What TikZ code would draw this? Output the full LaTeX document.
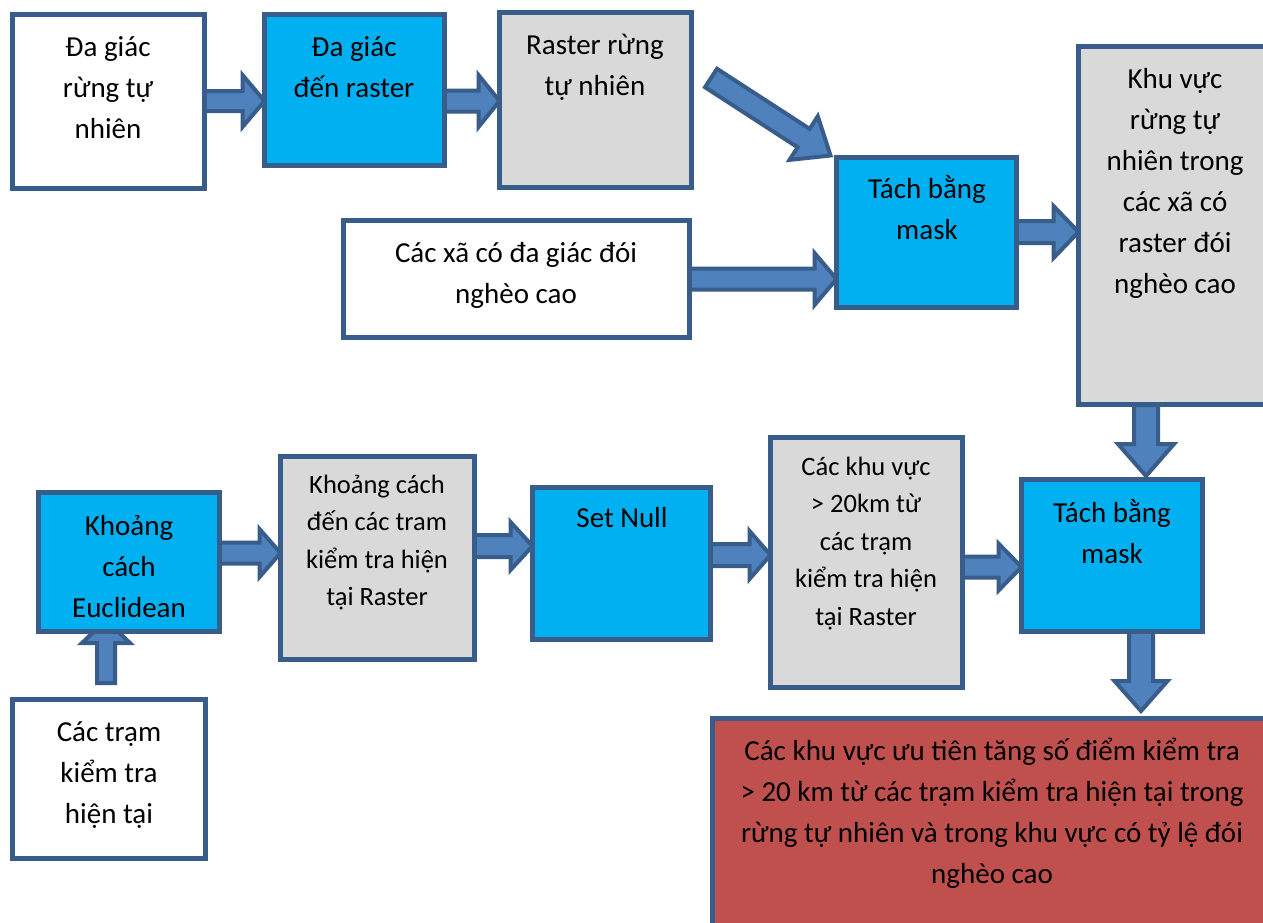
\documentclass[tikz,border=0pt]{standalone}
\usepackage{fontspec}
\setmainfont{Carlito}
\usetikzlibrary{calc}
\definecolor{bordc}{HTML}{385D8A}
\definecolor{arrf}{HTML}{4F81BD}
\definecolor{cyanf}{HTML}{00B0F0}
\definecolor{grayf}{HTML}{D9D9D9}
\definecolor{redf}{HTML}{C0504D}
\pgfdeclarelayer{background}
\pgfsetlayers{background,main}
\newcommand\lns[1]{\begin{tabular}[t]{@{}c@{}}#1\end{tabular}}
\newcommand\mkbox[6]{\node[boxst, fill=#6, minimum width={#4-#2-5}, minimum height={#5-#3-5}] (#1) at ({(#2+#4)/2},{(#3+#5)/2}) {};}
\newcommand\barrow[5]{%
  \coordinate (bs) at #1; \coordinate (be) at #2;
  \coordinate (bh) at ($(be)!#5pt!(bs)$);
  \draw[arrst] ($(bs)!#3pt!90:(be)$) -- ($(bh)!#3pt!90:(be)$) -- ($(bh)!#4pt!90:(be)$) -- (be)
    -- ($(bh)!#4pt!-90:(be)$) -- ($(bh)!#3pt!-90:(be)$) -- ($(bs)!#3pt!-90:(be)$) -- cycle;}
\tikzset{
  boxst/.style={draw=bordc, line width=5pt, rectangle, inner sep=0pt, outer sep=0pt},
  arrst/.style={draw=bordc, fill=arrf, line width=4pt, line join=miter},
  txt/.style={inner sep=0pt, font=\fontsize{29}{41}\selectfont, anchor=base},
  txts/.style={inner sep=0pt, font=\fontsize{26.5}{37.5}\selectfont, anchor=base}
}
\begin{document}
\begin{tikzpicture}[x=1pt,y=-1pt]
\useasboundingbox (0,0) rectangle (1263,922);
\clip (0,0) rectangle (1263,922);
\begin{pgfonlayer}{background}
\fill[white] (0,0) rectangle (1263,922);
\end{pgfonlayer}
% boxes
\mkbox{b1}{10}{12}{207}{191}{white}
\mkbox{b2}{262}{12}{447}{168}{cyanf}
\mkbox{b3}{497}{10}{694}{190}{grayf}
\mkbox{b4}{834}{155}{1019}{310}{cyanf}
\mkbox{b5}{341}{218}{692}{340}{white}
\mkbox{b6}{1076}{44}{1274}{407}{grayf}
\mkbox{b7}{36}{490}{222}{634}{cyanf}
\mkbox{b8}{10}{697}{208}{861}{white}
\mkbox{b9}{278}{454}{477}{662}{grayf}
\mkbox{b10}{530}{485}{713}{642}{cyanf}
\mkbox{b11}{768}{435}{965}{690}{grayf}
\mkbox{b12}{1019}{477}{1205}{634}{cyanf}
\mkbox{b13}{710}{716}{1274}{935}{redf}
% texts
\node[txt] (t1) at (108,56) {\lns{Đa giác\\rừng tự\\nhiên}};
\node[txt] (t2) at (354,56) {\lns{Đa giác\\đến raster}};
\node[txt] (t3) at (595,54) {\lns{Raster rừng\\tự nhiên}};
\node[txt] (t4) at (927,198) {\lns{Tách bằng\\mask}};
\node[txt] (t5) at (516,262) {\lns{Các xã có đa giác đói\\nghèo cao}};
\node[txt] (t6) at (1175,88) {\lns{Khu vực\\rừng tự\\nhiên trong\\các xã có\\raster đói\\nghèo cao}};
\node[txt] (t7) at (129,535) {\lns{Khoảng\\cách\\Euclidean}};
\node[txt] (t8) at (109,741) {\lns{Các trạm\\kiểm tra\\hiện tại}};
\node[txts] (t9) at (377,493) {\lns{Khoảng cách\\đến các tram\\kiểm tra hiện\\tại Raster}};
\node[txt] (t10) at (622,527) {\lns{Set Null}};
\node[txts] (t11) at (866,475) {\lns{Các khu vực\\> 20km từ\\các trạm\\kiểm tra hiện\\tại Raster}};
\node[txt] (t12) at (1112,522) {\lns{Tách bằng\\mask}};
\node[txt] (t13) at (992,760) {\lns{Các khu vực ưu tiên tăng số điểm kiểm tra\\> 20 km từ các trạm kiểm tra hiện tại trong\\rừng tự nhiên và trong khu vực có tỷ lệ đói\\nghèo cao}};
% arrows
\begin{pgfonlayer}{background}
\barrow{(b1.east |- 0,101)}{(b2.west |- 0,101)}{10}{26}{22}
\barrow{(b2.east |- 0,101)}{(b3.west |- 0,101)}{10.5}{26}{21}
\coordinate (a3s) at (711,78);
\barrow{(a3s)}{($(b4.north west)+(-6,-2)$)}{11}{26}{32}
\barrow{(b5.east |- 0,279)}{(b4.west |- 0,279)}{10.5}{26}{22}
\barrow{(b4.east |- 0,232)}{(b6.west |- 0,232)}{11}{26}{25}
\barrow{(1146,405)}{(1146,476)}{12}{28}{32}
\barrow{(b7.east |- 0,553)}{(b9.west |- 0,553)}{10.5}{24}{21}
\barrow{(106,683)}{(106,620)}{9}{24}{23}
\barrow{(b9.east |- 0,546)}{(b10.west |- 0,546)}{11}{24}{22}
\barrow{(b10.east |- 0,555)}{(b11.west |- 0,555)}{11}{24}{21}
\barrow{(b11.east |- 0,567)}{(b12.west |- 0,567)}{10.5}{23.5}{23}
\barrow{(1141,629)}{(1141,711)}{12}{26.5}{30}
\end{pgfonlayer}
\end{tikzpicture}
\end{document}
